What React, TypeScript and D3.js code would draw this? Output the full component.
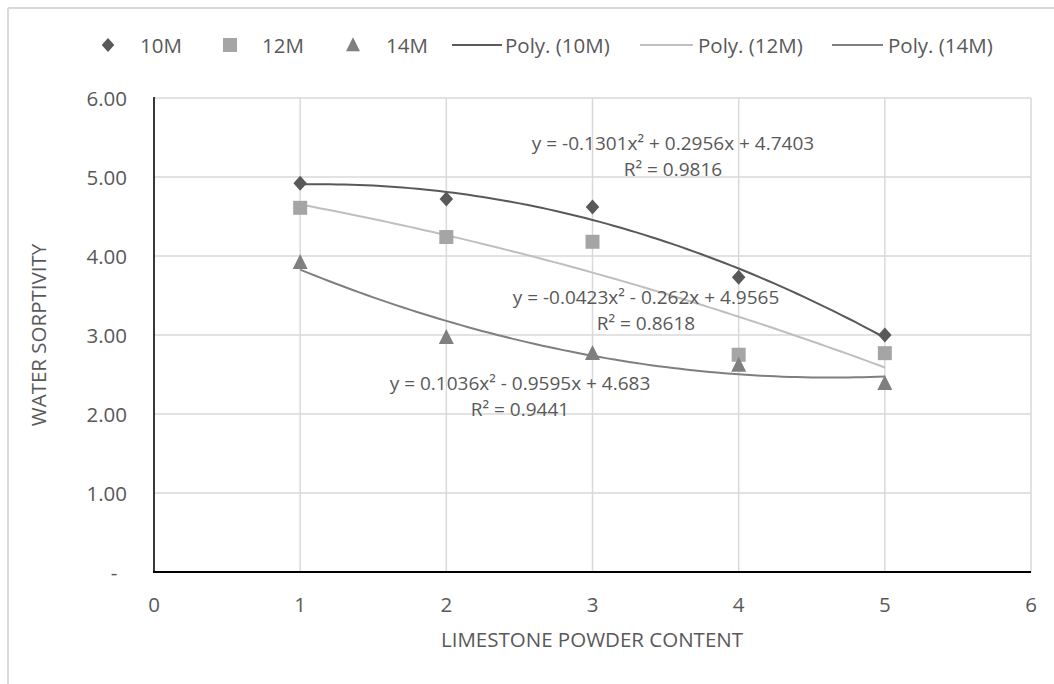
import React from "react";
import * as d3 from "d3";

const xValues = [1, 2, 3, 4, 5];
const s10M = [4.92, 4.72, 4.62, 3.73, 3.0];
const s12M = [4.61, 4.24, 4.18, 2.75, 2.77];
const s14M = [3.92, 2.97, 2.77, 2.62, 2.39];

// polynomial coefficients [a, b, c] as shown in the chart: y = a x^2 + b x + c
const poly10M = [-0.1301, 0.2956, 4.7403];
const poly12M = [-0.0423, -0.262, 4.9565];
const poly14M = [0.1036, -0.9595, 4.683];

const eq10M = ["y = -0.1301x² + 0.2956x + 4.7403", "R² = 0.9816"];
const eq12M = ["y = -0.0423x² - 0.262x + 4.9565", "R² = 0.8618"];
const eq14M = ["y = 0.1036x² - 0.9595x + 4.683", "R² = 0.9441"];

const xTicks = [0, 1, 2, 3, 4, 5, 6];
const yTicks = [0, 1, 2, 3, 4, 5, 6];

const W = 1054;
const H = 684;
const FONT = "'Open Sans', 'Noto Sans', sans-serif";
const TXT = "#595959";
const FS = 20.5;
const FS_EQ = 19;

export default function App() {
  const x = d3.scaleLinear().domain([0, 6]).range([154, 1031]);
  const y = d3.scaleLinear().domain([0, 6]).range([572, 98]);

  const trend = (c: number[]) => {
    const pts: [number, number][] = [];
    for (let i = 0; i <= 80; i++) {
      const xv = 1 + (4 * i) / 80;
      pts.push([xv, c[0] * xv * xv + c[1] * xv + c[2]]);
    }
    return d3
      .line<[number, number]>()
      .x((d) => x(d[0]))
      .y((d) => y(d[1]))(pts) as string;
  };

  const diamond = (cx: number, cy: number, r = 7.5) =>
    `M${cx},${cy - r}L${cx + r * 0.9},${cy}L${cx},${cy + r}L${cx - r * 0.9},${cy}Z`;
  const tri = (cx: number, cy: number, s = 15) =>
    `M${cx},${cy - s * 0.55}L${cx + s / 2},${cy + s * 0.45}L${cx - s / 2},${cy + s * 0.45}Z`;

  const C10 = "#595959";
  const C12 = "#a5a5a5";
  const C14 = "#7f7f7f";
  const L12 = "#bfbfbf";

  const eqLabel = (lines: string[], cx: number, cy: number) => (
    <g>
      <text x={cx} y={cy} textAnchor="middle" dominantBaseline="central" fontSize={FS_EQ} fill={TXT}>
        {lines[0]}
      </text>
      <text x={cx} y={cy + 26} textAnchor="middle" dominantBaseline="central" fontSize={FS_EQ} fill={TXT}>
        {lines[1]}
      </text>
    </g>
  );

  const legY = 45;

  return (
    <svg
      width={W}
      height={H}
      style={{ position: "absolute", left: 0, top: 0, background: "#fff" }}
      fontFamily={FONT}
    >
      <rect x={0} y={0} width={W} height={H} fill="#fff" />
      {/* chart border */}
      <line x1={8} y1={8} x2={W} y2={8} stroke="#d9d9d9" strokeWidth={2} />
      <line x1={8} y1={8} x2={8} y2={H} stroke="#d9d9d9" strokeWidth={2} />

      {/* gridlines */}
      {yTicks.map((t) => (
        <line key={"gy" + t} x1={x(0)} x2={x(6)} y1={y(t)} y2={y(t)} stroke="#d9d9d9" strokeWidth={1.5} />
      ))}
      {xTicks.map((t) => (
        <line key={"gx" + t} x1={x(t)} x2={x(t)} y1={y(0)} y2={y(6)} stroke="#d9d9d9" strokeWidth={1.5} />
      ))}

      {/* axes */}
      <line x1={x(0)} x2={x(0)} y1={y(6) - 1} y2={y(0)} stroke="#000" strokeWidth={1.5} />
      <line x1={x(0) - 1} x2={x(6)} y1={y(0)} y2={y(0)} stroke="#000" strokeWidth={2} />

      {/* tick labels */}
      {yTicks.map((t) =>
        t === 0 ? (
          <text key={"yl" + t} x={114} y={y(t)} textAnchor="middle" dominantBaseline="central" fontSize={FS} fill={TXT}>
            -
          </text>
        ) : (
          <text key={"yl" + t} x={127} y={y(t)} textAnchor="end" dominantBaseline="central" fontSize={FS} fill={TXT}>
            {d3.format(".2f")(t)}
          </text>
        )
      )}
      {xTicks.map((t) => (
        <text key={"xl" + t} x={x(t)} y={604} textAnchor="middle" dominantBaseline="central" fontSize={FS} fill={TXT}>
          {t}
        </text>
      ))}

      {/* axis titles */}
      <text x={592} y={639} textAnchor="middle" dominantBaseline="central" fontSize={FS} fill={TXT}>
        LIMESTONE POWDER CONTENT
      </text>
      <text
        transform={`translate(38,${y(3)}) rotate(-90)`}
        textAnchor="middle"
        dominantBaseline="central"
        fontSize={FS}
        fill={TXT}
      >
        WATER SORPTIVITY
      </text>

      {/* trendlines */}
      <path d={trend(poly10M)} fill="none" stroke={C10} strokeWidth={2} />
      <path d={trend(poly12M)} fill="none" stroke={L12} strokeWidth={2} />
      <path d={trend(poly14M)} fill="none" stroke={C14} strokeWidth={2} />

      {/* markers */}
      {xValues.map((xv, i) => (
        <path key={"d" + i} d={diamond(x(xv), y(s10M[i]))} fill={C10} />
      ))}
      {xValues.map((xv, i) => (
        <rect key={"s" + i} x={x(xv) - 7} y={y(s12M[i]) - 7} width={14} height={14} fill={C12} />
      ))}
      {xValues.map((xv, i) => (
        <path key={"t" + i} d={tri(x(xv), y(s14M[i]))} fill={C14} />
      ))}

      {/* equations */}
      {eqLabel(eq10M, 673, 143)}
      {eqLabel(eq12M, 646, 297)}
      {eqLabel(eq14M, 520, 383)}

      {/* legend */}
      <path d={diamond(108, legY, 7)} fill={C10} />
      <text x={140} y={legY} dominantBaseline="central" fontSize={FS} fill={TXT}>10M</text>
      <rect x={223} y={legY - 7} width={14} height={14} fill={C12} />
      <text x={262} y={legY} dominantBaseline="central" fontSize={FS} fill={TXT}>12M</text>
      <path d={tri(353, legY, 14)} fill={C14} />
      <text x={386} y={legY} dominantBaseline="central" fontSize={FS} fill={TXT}>14M</text>
      <line x1={452} x2={502} y1={legY} y2={legY} stroke={C10} strokeWidth={2} />
      <text x={505} y={legY} dominantBaseline="central" fontSize={FS} fill={TXT}>Poly. (10M)</text>
      <line x1={640} x2={693} y1={legY} y2={legY} stroke={L12} strokeWidth={2} />
      <text x={698} y={legY} dominantBaseline="central" fontSize={FS} fill={TXT}>Poly. (12M)</text>
      <line x1={832} x2={883} y1={legY} y2={legY} stroke={C14} strokeWidth={2} />
      <text x={888} y={legY} dominantBaseline="central" fontSize={FS} fill={TXT}>Poly. (14M)</text>
    </svg>
  );
}
